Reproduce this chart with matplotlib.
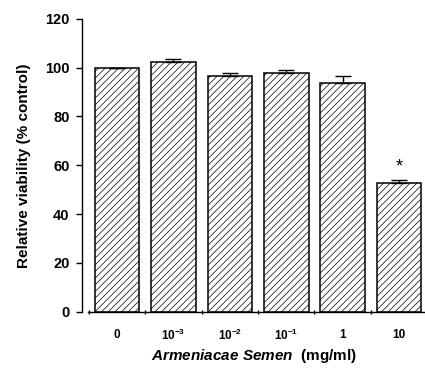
import numpy as np
import matplotlib
matplotlib.use('Agg')
import matplotlib.pyplot as plt

# data
doses = ['0', '$\\mathbf{10^{-3}}$', '$\\mathbf{10^{-2}}$', '$\\mathbf{10^{-1}}$', '1', '10']
viability = [100.0, 102.3, 96.5, 97.9, 93.8, 52.8]
sem_up = [0.0, 1.3, 1.2, 1.3, 2.7, 1.3]
signif = ['', '', '', '', '', '*']

plt.rcParams['font.family'] = ['Liberation Sans', 'DejaVu Sans']
plt.rcParams['mathtext.fontset'] = 'custom'
plt.rcParams['mathtext.rm'] = 'Liberation Sans'
plt.rcParams['mathtext.bf'] = 'Liberation Sans:bold'
plt.rcParams['mathtext.it'] = 'Liberation Sans:italic'
plt.rcParams['mathtext.bfit'] = 'Liberation Sans:bold:italic'
plt.rcParams['hatch.linewidth'] = 0.5
plt.rcParams['hatch.color'] = '#6a6a6a'

fig = plt.figure(figsize=(4.25, 3.69), dpi=100)
ax = fig.add_axes([0.193, 0.155, 0.807, 0.794])

x = np.arange(len(doses))
bars = ax.bar(x, viability, width=0.79, color='white', edgecolor='black',
              linewidth=1.1, hatch='/////', zorder=2)
ax.errorbar(x, viability, yerr=[np.zeros(len(x)), sem_up], fmt='none',
            ecolor='black', elinewidth=1.0, capsize=5.5, capthick=1.0, zorder=3)
for xi, v, e, s in zip(x, viability, sem_up, signif):
    if s:
        ax.text(xi, v + e + 5.2, s, ha='center', va='center', fontsize=13)

ax.set_ylim(0, 120)
ax.set_xlim(-0.62, 5.46)
ax.set_yticks([0, 20, 40, 60, 80, 100, 120])
ax.tick_params(axis='y', labelsize=10.5, length=4, width=1, direction='out', pad=5)
for lab in ax.get_yticklabels():
    lab.set_fontweight('bold')

ax.set_xticks(x)
ax.set_xticklabels(doses, fontsize=8.5, fontweight='bold', va='center')
ax.tick_params(axis='x', length=0, pad=17)
ax.set_xticks(np.arange(-0.5, 5.0, 1.0), minor=True)
ax.tick_params(axis='x', which='minor', length=3, width=1, direction='inout')

ax.spines['top'].set_visible(False)
ax.spines['right'].set_visible(False)
ax.spines['bottom'].set_bounds(-0.52, 5.46)
ax.spines['left'].set_linewidth(1.0)
ax.spines['bottom'].set_linewidth(1.0)

ax.set_ylabel('Relative viability (% control)', fontsize=11, fontweight='bold', labelpad=10)
ax.set_xlabel('$\\mathbfit{Armeniacae\\ Semen}$  (mg/ml)', fontsize=11, fontweight='bold', labelpad=3)

fig.savefig('out.png', dpi=100)
